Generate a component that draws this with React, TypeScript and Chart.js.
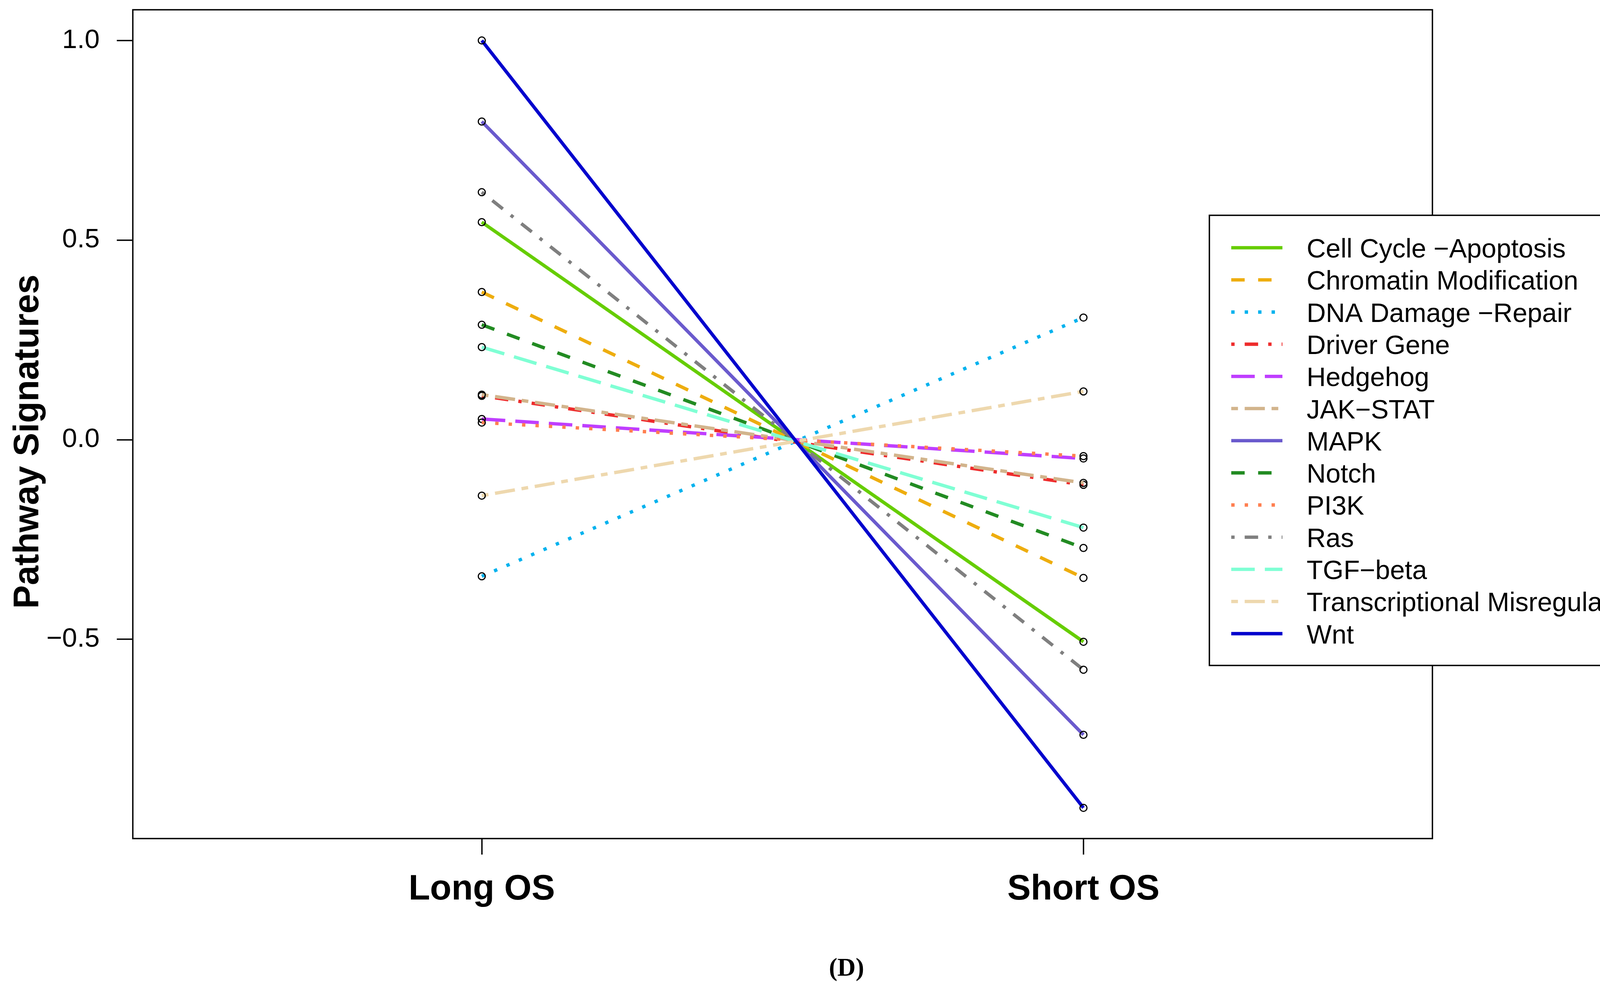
import React, { useEffect, useRef } from "react";
import { Chart, registerables } from "chart.js";

Chart.register(...registerables);

// ---------------- data ----------------
const categories = ["Long OS", "Short OS"];
const categoryX = [1, 2];

const pathways = [
  "Cell Cycle \u2212Apoptosis",
  "Chromatin Modification",
  "DNA Damage \u2212Repair",
  "Driver Gene",
  "Hedgehog",
  "JAK\u2212STAT",
  "MAPK",
  "Notch",
  "PI3K",
  "Ras",
  "TGF\u2212beta",
  "Transcriptional Misregulation",
  "Wnt",
];

const longOS = [0.545, 0.37, -0.342, 0.11, 0.052, 0.113, 0.797, 0.288, 0.043, 0.62, 0.232, -0.14, 1.0];
const shortOS = [-0.506, -0.346, 0.306, -0.113, -0.047, -0.108, -0.739, -0.271, -0.041, -0.576, -0.22, 0.121, -0.922];

const yTicks = [-0.5, 0, 0.5, 1.0];

const lineColors = [
  "#66CD00",
  "#EEAD0E",
  "#00B2EE",
  "#EE2C2C",
  "#BF3EFF",
  "#D2B48C",
  "#6A5ACD",
  "#228B22",
  "#FF7F50",
  "#7F7F7F",
  "#7FFFD4",
  "#EED8AE",
  "#0000CD",
];

const lineTypes = [
  "solid", "dashed", "dotted", "dotdash", "longdash", "twodash",
  "solid", "dashed", "dotted", "dotdash", "longdash", "twodash",
  "solid",
];

// ---------------- styling ----------------
const W = 4271;
const H = 2531;
const LW = 8.6;
const SANS = '"Liberation Sans", Arial, Helvetica, sans-serif';
const SERIF = '"Liberation Serif", "Times New Roman", serif';

const dashFor = (t: string): number[] => {
  const u = LW;
  switch (t) {
    case "dashed": return [4 * u, 4 * u];
    case "dotted": return [u, 3 * u];
    case "dotdash": return [u, 3 * u, 4 * u, 3 * u];
    case "longdash": return [7 * u, 3 * u];
    case "twodash": return [2 * u, 2 * u, 6 * u, 2 * u];
    default: return [];
  }
};

const allVals = [...longOS, ...shortOS];
const dMin = Math.min(...allVals);
const dMax = Math.max(...allVals);
const yMin = dMin - 0.04 * (dMax - dMin);
const yMax = dMax + 0.04 * (dMax - dMin);

const fmtY = (v: number) => (v < 0 ? "\u2212" + Math.abs(v).toFixed(1) : v.toFixed(1));

const zeroPad = (s: any) => {
  s.paddingTop = 0;
  s.paddingBottom = 0;
  s.paddingLeft = 0;
  s.paddingRight = 0;
};

const decorPlugin = {
  id: "rDecor",
  afterDraw(chart: any) {
    const { ctx, chartArea } = chart;
    const { left, top, right, bottom } = chartArea;
    ctx.save();
    // plot box
    ctx.setLineDash([]);
    ctx.lineWidth = 3.5;
    ctx.strokeStyle = "#000";
    ctx.strokeRect(left, top, right - left, bottom - top);

    // legend
    const lx0 = 3096, ly0 = 551, lx1 = 4241, ly1 = 1703;
    ctx.fillStyle = "#fff";
    ctx.fillRect(lx0, ly0, lx1 - lx0, ly1 - ly0);
    ctx.lineWidth = 3.5;
    ctx.strokeStyle = "#000";
    ctx.strokeRect(lx0, ly0, lx1 - lx0, ly1 - ly0);
    const rowH = 82.3;
    chart.data.datasets.forEach((ds: any, i: number) => {
      const cy = 634 + rowH * i;
      ctx.beginPath();
      ctx.setLineDash(ds.borderDash || []);
      ctx.lineDashOffset = 0;
      ctx.lineWidth = LW;
      ctx.lineCap = "butt";
      ctx.strokeStyle = ds.borderColor;
      ctx.moveTo(3152, cy);
      ctx.lineTo(3283, cy);
      ctx.stroke();
      ctx.setLineDash([]);
      ctx.fillStyle = "#000";
      ctx.font = `68px ${SANS}`;
      ctx.textAlign = "left";
      ctx.textBaseline = "alphabetic";
      ctx.fillText(ds.label, 3345, cy + 25);
    });

    // y axis title
    ctx.save();
    ctx.translate(98, 1130);
    ctx.rotate(-Math.PI / 2);
    ctx.fillStyle = "#000";
    ctx.font = `bold 90px ${SANS}`;
    ctx.textAlign = "center";
    ctx.textBaseline = "alphabetic";
    ctx.fillText("Pathway Signatures", 0, 0);
    ctx.restore();

    // caption
    ctx.fillStyle = "#000";
    ctx.font = `bold 65px ${SERIF}`;
    ctx.textAlign = "center";
    ctx.textBaseline = "alphabetic";
    ctx.fillText("(D)", 2167, 2497);
    ctx.restore();
  },
};

export default function App() {
  const ref = useRef<HTMLCanvasElement | null>(null);

  useEffect(() => {
    if (!ref.current) return;
    const n = pathways.length;
    const datasets = pathways.map((name, i) => ({
      label: name,
      data: [
        { x: categoryX[0], y: longOS[i] },
        { x: categoryX[1], y: shortOS[i] },
      ],
      borderColor: lineColors[i],
      backgroundColor: lineColors[i],
      borderWidth: LW,
      borderDash: dashFor(lineTypes[i]),
      borderCapStyle: "butt",
      pointRadius: 9,
      pointBorderWidth: 3,
      pointBorderColor: "#000",
      pointBackgroundColor: "rgba(0,0,0,0)",
      pointStyle: "circle",
      tension: 0,
      fill: false,
      order: n - i,
    }));

    const chart = new Chart(ref.current, {
      type: "line",
      data: { datasets } as any,
      options: {
        animation: false,
        responsive: false,
        devicePixelRatio: 1,
        layout: { padding: { left: 0, top: 25, right: W - 3667, bottom: H - 2146 - 200 } },
        plugins: { legend: { display: false }, tooltip: { enabled: false }, title: { display: false } },
        scales: {
          x: {
            type: "linear",
            min: 0.42,
            max: 2.58,
            afterBuildTicks: (s: any) => {
              s.ticks = categoryX.map((v) => ({ value: v }));
            },
            afterFit: (s: any) => {
              s.height = 200;
              zeroPad(s);
            },
            ticks: {
              autoSkip: false,
              maxRotation: 0,
              minRotation: 0,
              padding: 36,
              color: "#000",
              font: { family: SANS, size: 90, weight: "bold" },
              callback: (v: any) => {
                const k = categoryX.indexOf(Number(v));
                return k >= 0 ? categories[k] : "";
              },
            },
            grid: { display: true, drawOnChartArea: false, drawTicks: true, tickLength: 41, lineWidth: 3.5, color: "#000" },
            border: { display: false },
          },
          y: {
            type: "linear",
            min: yMin,
            max: yMax,
            afterBuildTicks: (s: any) => {
              s.ticks = yTicks.map((v) => ({ value: v }));
            },
            afterFit: (s: any) => {
              s.width = 340;
              zeroPad(s);
            },
            ticks: {
              autoSkip: false,
              padding: 44,
              color: "#000",
              font: { family: SANS, size: 69 },
              callback: (v: any) => fmtY(Number(v)),
            },
            grid: { display: true, drawOnChartArea: false, drawTicks: true, tickLength: 41, lineWidth: 3.5, color: "#000" },
            border: { display: false },
          },
        },
      } as any,
      plugins: [decorPlugin],
    });
    return () => chart.destroy();
  }, []);

  return (
    <div style={{ position: "fixed", left: 0, top: 0, width: W, height: H, background: "#fff" }}>
      <canvas ref={ref} width={W} height={H} style={{ display: "block", width: W, height: H }} />
    </div>
  );
}
